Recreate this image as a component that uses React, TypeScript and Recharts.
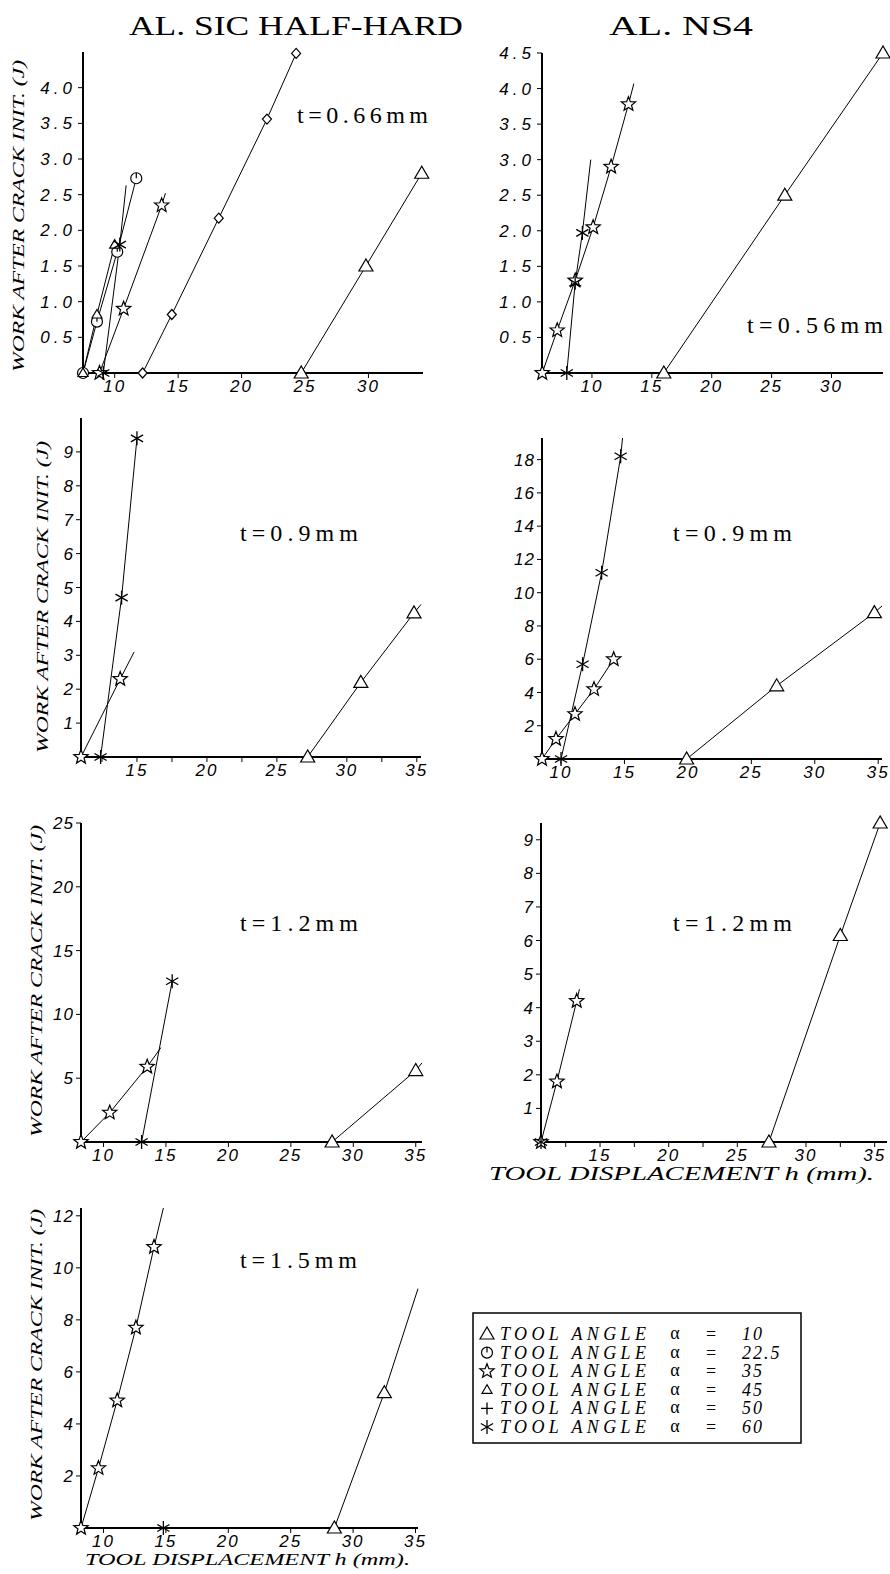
import { LineChart, Line, XAxis, YAxis } from 'recharts';

type Pt = { x: number; y: number; fit?: boolean };
type Mark = 'tri' | 'circ' | 'star' | 'smalltri' | 'diamond' | 'plus' | 'aster';

// fit: end of the drawn trend line, no measured point there

// AL. SIC half-hard, t = 0.66 mm
const sic066Tri: Pt[] = [{ x: 24.7, y: 0 }, { x: 29.8, y: 1.5 }, { x: 34.2, y: 2.8 }];
const sic066Diamond: Pt[] = [{ x: 12.2, y: 0 }, { x: 14.5, y: 0.82 }, { x: 18.2, y: 2.17 }, { x: 22.0, y: 3.56 }, { x: 24.3, y: 4.48 }];
const sic066Circ: Pt[] = [{ x: 7.5, y: 0 }, { x: 8.6, y: 0.72 }, { x: 10.2, y: 1.7 }, { x: 11.7, y: 2.73 }];
const sic066Star: Pt[] = [{ x: 8.8, y: 0 }, { x: 10.7, y: 0.9 }, { x: 13.7, y: 2.35 }, { x: 14.0, y: 2.52, fit: true }];
const sic066SmallTri: Pt[] = [{ x: 7.5, y: 0 }, { x: 8.6, y: 0.82 }, { x: 10.0, y: 1.8 }];
const sic066Aster: Pt[] = [{ x: 9.1, y: 0 }, { x: 10.4, y: 1.8 }, { x: 10.9, y: 2.63, fit: true }];

// AL. NS4, t = 0.56 mm
const ns056Tri: Pt[] = [{ x: 16.0, y: 0 }, { x: 26.1, y: 2.5 }, { x: 34.3, y: 4.5 }];
const ns056Star: Pt[] = [{ x: 5.85, y: 0 }, { x: 7.1, y: 0.6 }, { x: 8.6, y: 1.3 }, { x: 10.1, y: 2.05 }, { x: 11.6, y: 2.9 }, { x: 13.05, y: 3.78 }, { x: 13.5, y: 4.07, fit: true }];
const ns056Aster: Pt[] = [{ x: 7.9, y: 0 }, { x: 8.6, y: 1.27 }, { x: 9.2, y: 1.97 }, { x: 9.9, y: 3.0, fit: true }];

// AL. SIC half-hard, t = 0.9 mm
const sic09Aster: Pt[] = [{ x: 12.4, y: 0 }, { x: 13.9, y: 4.7 }, { x: 15.0, y: 9.4 }];
const sic09Star: Pt[] = [{ x: 11, y: 0 }, { x: 13.8, y: 2.3 }, { x: 14.8, y: 3.1, fit: true }];
const sic09Tri: Pt[] = [{ x: 27.2, y: 0 }, { x: 31.0, y: 2.2 }, { x: 34.8, y: 4.25 }, { x: 35.3, y: 4.5, fit: true }];

// AL. NS4, t = 0.9 mm
const ns09Aster: Pt[] = [{ x: 10.0, y: 0 }, { x: 11.7, y: 5.7 }, { x: 13.2, y: 11.2 }, { x: 14.7, y: 18.2 }, { x: 14.85, y: 19.3, fit: true }];
const ns09Star: Pt[] = [{ x: 8.5, y: 0 }, { x: 9.6, y: 1.2 }, { x: 11.1, y: 2.7 }, { x: 12.6, y: 4.2 }, { x: 14.15, y: 6.0 }];
const ns09Tri: Pt[] = [{ x: 19.9, y: 0 }, { x: 27.0, y: 4.4 }, { x: 34.7, y: 8.8 }, { x: 35.3, y: 9.2, fit: true }];

// AL. SIC half-hard, t = 1.2 mm
const sic12Star: Pt[] = [{ x: 8.2, y: 0 }, { x: 10.5, y: 2.3 }, { x: 13.5, y: 5.9 }, { x: 14.6, y: 7.4, fit: true }];
const sic12Aster: Pt[] = [{ x: 13.05, y: 0 }, { x: 15.5, y: 12.6 }];
const sic12Tri: Pt[] = [{ x: 28.3, y: 0 }, { x: 35.0, y: 5.6 }, { x: 35.5, y: 6.2, fit: true }];

// AL. NS4, t = 1.2 mm
const ns12Star: Pt[] = [{ x: 10.7, y: 0 }, { x: 11.86, y: 1.8 }, { x: 13.3, y: 4.2 }, { x: 13.5, y: 4.55, fit: true }];
const ns12Aster: Pt[] = [{ x: 10.7, y: 0 }];
const ns12Tri: Pt[] = [{ x: 27.3, y: 0 }, { x: 32.5, y: 6.15 }, { x: 35.4, y: 9.5 }];

// AL. SIC half-hard, t = 1.5 mm
const sic15Star: Pt[] = [{ x: 8.2, y: 0 }, { x: 9.6, y: 2.3 }, { x: 11.1, y: 4.9 }, { x: 12.6, y: 7.7 }, { x: 14.05, y: 10.8 }, { x: 14.8, y: 12.3, fit: true }];
const sic15Aster: Pt[] = [{ x: 14.8, y: 0 }];
const sic15Tri: Pt[] = [{ x: 28.5, y: 0 }, { x: 32.5, y: 5.2 }, { x: 35.2, y: 9.2, fit: true }];

const legendKinds: Mark[] = ['tri', 'circ', 'star', 'smalltri', 'plus', 'aster'];
const legendAngles = ['10', '22.5', '35', '45', '50', '60'];

const SERIF = '"Liberation Serif", "DejaVu Serif", serif';
const SANS = '"Liberation Sans", Arial, sans-serif';

function marker(kind: Mark, cx: number, cy: number, key: string) {
  const st = { stroke: '#000', strokeWidth: 1.2, fill: '#fff' };
  switch (kind) {
    case 'tri':
      return <polygon key={key} points={`${cx},${cy - 7} ${cx - 7},${cy + 5} ${cx + 7},${cy + 5}`} {...st} />;
    case 'smalltri':
      return <polygon key={key} points={`${cx},${cy - 5} ${cx - 5},${cy + 3.5} ${cx + 5},${cy + 3.5}`} {...st} />;
    case 'diamond':
      return <polygon key={key} points={`${cx},${cy - 5} ${cx + 4.5},${cy} ${cx},${cy + 5} ${cx - 4.5},${cy}`} {...st} />;
    case 'circ':
      return (
        <g key={key}>
          <circle cx={cx} cy={cy} r={5.5} {...st} />
          <line x1={cx} y1={cy - 5.5} x2={cx} y2={cy} stroke="#000" strokeWidth={1.2} />
        </g>
      );
    case 'star': {
      const pts: string[] = [];
      for (let i = 0; i < 10; i++) {
        const r = i % 2 === 0 ? 7.5 : 3.2;
        const a = -Math.PI / 2 + (i * Math.PI) / 5;
        pts.push(`${cx + r * Math.cos(a)},${cy + r * Math.sin(a)}`);
      }
      return <polygon key={key} points={pts.join(' ')} {...st} />;
    }
    case 'plus':
      return (
        <g key={key} stroke="#000" strokeWidth={1.3}>
          <line x1={cx - 6} y1={cy} x2={cx + 6} y2={cy} />
          <line x1={cx} y1={cy - 6} x2={cx} y2={cy + 6} />
        </g>
      );
    case 'aster':
    default:
      return (
        <g key={key} stroke="#000" strokeWidth={1.3}>
          <line x1={cx} y1={cy - 7} x2={cx} y2={cy + 7} />
          <line x1={cx - 6.1} y1={cy - 3.5} x2={cx + 6.1} y2={cy + 3.5} />
          <line x1={cx - 6.1} y1={cy + 3.5} x2={cx + 6.1} y2={cy - 3.5} />
        </g>
      );
  }
}

interface Series {
  kind: Mark;
  data: Pt[];
}

interface PanelProps {
  id: string;
  box: [number, number, number, number]; // plot left, right, top, bottom
  xDomain: [number, number];
  yDomain: [number, number];
  xTicks: number[];
  minorX?: number[];
  yTicks: number[];
  yDecimals?: number;
  series: Series[];
}

function Panel({ id, box, xDomain, yDomain, xTicks, minorX = [], yTicks, yDecimals = 0, series }: PanelProps) {
  const [l, r, t, b] = box;
  const padL = 70;
  const padR = 12;
  const padT = 12;
  const xAxisH = 34;
  const W = r - l + padL + padR;
  const H = b - t + padT + xAxisH + 4;
  const allX = [...xTicks, ...minorX].sort((a, c) => a - c);
  const tickFont = { fontFamily: SANS, fontStyle: 'italic', fontSize: 17, fill: '#000' };

  return (
    <div style={{ position: 'absolute', left: l - padL, top: t - padT }}>
      <LineChart width={W} height={H} margin={{ top: padT, right: padR, bottom: 4, left: 0 }}>
        <XAxis
          type="number"
          dataKey="x"
          domain={xDomain}
          ticks={allX}
          interval={0}
          height={xAxisH}
          tickSize={5}
          tickMargin={2}
          axisLine={{ stroke: '#000', strokeWidth: 2 }}
          tickLine={{ stroke: '#000', strokeWidth: 1 }}
          tick={{ ...tickFont, letterSpacing: 2 }}
          tickFormatter={(v: number) => (xTicks.includes(v) ? String(v) : '')}
        />
        <YAxis
          type="number"
          domain={yDomain}
          ticks={yTicks}
          interval={0}
          width={padL}
          tickSize={5}
          tickMargin={2}
          axisLine={{ stroke: '#000', strokeWidth: 2 }}
          tickLine={{ stroke: '#000', strokeWidth: 1 }}
          tick={{ ...tickFont, letterSpacing: yDecimals ? 4 : 1 }}
          tickFormatter={(v: number) => v.toFixed(yDecimals)}
        />
        {series.map((s, si) => (
          <Line
            key={`${id}-${si}`}
            data={s.data}
            dataKey="y"
            type="linear"
            stroke="#000"
            strokeWidth={1}
            isAnimationActive={false}
            activeDot={false}
            dot={(p: any) =>
              p.payload && p.payload.fit ? (
                <g key={`${id}-${si}-${p.index}`} />
              ) : (
                marker(s.kind, p.cx, p.cy, `${id}-${si}-${p.index}`)
              )
            }
          />
        ))}
      </LineChart>
    </div>
  );
}

const yLabel = 'WORK AFTER CRACK INIT. (J)';
const xLabel = 'TOOL DISPLACEMENT h (mm).';

export default function App() {
  return (
    <div style={{ position: 'absolute', left: 0, top: 0, width: 890, height: 1574, background: '#fff', overflow: 'hidden' }}>
      <Panel
        id="p1"
        box={[83, 423, 52, 373]}
        xDomain={[7.5, 34.3]}
        yDomain={[0, 4.5]}
        xTicks={[10, 15, 20, 25, 30]}
        yTicks={[0.5, 1, 1.5, 2, 2.5, 3, 3.5, 4]}
        yDecimals={1}
        series={[
          { kind: 'tri', data: sic066Tri },
          { kind: 'diamond', data: sic066Diamond },
          { kind: 'circ', data: sic066Circ },
          { kind: 'star', data: sic066Star },
          { kind: 'smalltri', data: sic066SmallTri },
          { kind: 'aster', data: sic066Aster },
        ]}
      />
      <Panel
        id="p2"
        box={[542, 883, 53, 373]}
        xDomain={[5.83, 34.3]}
        yDomain={[0, 4.5]}
        xTicks={[10, 15, 20, 25, 30]}
        yTicks={[0.5, 1, 1.5, 2, 2.5, 3, 3.5, 4, 4.5]}
        yDecimals={1}
        series={[
          { kind: 'tri', data: ns056Tri },
          { kind: 'star', data: ns056Star },
          { kind: 'aster', data: ns056Aster },
        ]}
      />
      <Panel
        id="p3"
        box={[81, 421, 418, 757]}
        xDomain={[11, 35.3]}
        yDomain={[0, 10]}
        xTicks={[15, 20, 25, 30, 35]}
        minorX={[12.5, 17.5, 22.5, 27.5, 32.5]}
        yTicks={[1, 2, 3, 4, 5, 6, 7, 8, 9]}
        series={[
          { kind: 'aster', data: sic09Aster },
          { kind: 'star', data: sic09Star },
          { kind: 'tri', data: sic09Tri },
        ]}
      />
      <Panel
        id="p4"
        box={[542, 882, 438, 759]}
        xDomain={[8.5, 35.3]}
        yDomain={[0, 19.3]}
        xTicks={[10, 15, 20, 25, 30, 35]}
        yTicks={[2, 4, 6, 8, 10, 12, 14, 16, 18]}
        series={[
          { kind: 'aster', data: ns09Aster },
          { kind: 'star', data: ns09Star },
          { kind: 'tri', data: ns09Tri },
        ]}
      />
      <Panel
        id="p5"
        box={[81, 422, 823, 1142]}
        xDomain={[8.2, 35.5]}
        yDomain={[0, 25]}
        xTicks={[10, 15, 20, 25, 30, 35]}
        yTicks={[5, 10, 15, 20, 25]}
        series={[
          { kind: 'star', data: sic12Star },
          { kind: 'aster', data: sic12Aster },
          { kind: 'tri', data: sic12Tri },
        ]}
      />
      <Panel
        id="p6"
        box={[541, 887, 823, 1142]}
        xDomain={[10.7, 35.9]}
        yDomain={[0, 9.5]}
        xTicks={[15, 20, 25, 30, 35]}
        minorX={[12.5, 17.5, 22.5, 27.5, 32.5]}
        yTicks={[1, 2, 3, 4, 5, 6, 7, 8, 9]}
        series={[
          { kind: 'star', data: ns12Star },
          { kind: 'aster', data: ns12Aster },
          { kind: 'tri', data: ns12Tri },
        ]}
      />
      <Panel
        id="p7"
        box={[81, 418, 1208, 1528]}
        xDomain={[8.2, 35.2]}
        yDomain={[0, 12.3]}
        xTicks={[10, 15, 20, 25, 30, 35]}
        yTicks={[2, 4, 6, 8, 10, 12]}
        series={[
          { kind: 'star', data: sic15Star },
          { kind: 'aster', data: sic15Aster },
          { kind: 'tri', data: sic15Tri },
        ]}
      />

      <svg width={890} height={1574} style={{ position: 'absolute', left: 0, top: 0, pointerEvents: 'none' }}>
        {/* column titles */}
        <text x={129} y={35} fontFamily={SERIF} fontSize={28} textLength={334} lengthAdjust="spacingAndGlyphs">
          AL. SIC HALF-HARD
        </text>
        <text x={609} y={35} fontFamily={SERIF} fontSize={28} textLength={144} lengthAdjust="spacingAndGlyphs">
          AL. NS4
        </text>

        {/* thickness labels */}
        {[
          { s: 't=0.66mm', x: 297, y: 123, w: 131 },
          { s: 't=0.56mm', x: 747, y: 333, w: 136 },
          { s: 't=0.9mm', x: 240, y: 541, w: 118 },
          { s: 't=0.9mm', x: 673, y: 541, w: 119 },
          { s: 't=1.2mm', x: 240, y: 931, w: 118 },
          { s: 't=1.2mm', x: 673, y: 931, w: 119 },
          { s: 't=1.5mm', x: 240, y: 1268, w: 117 },
        ].map((d, i) => (
          <text key={`t${i}`} x={d.x} y={d.y} fontFamily={SERIF} fontSize={24} textLength={d.w} lengthAdjust="spacing">
            {d.s}
          </text>
        ))}

        {/* y axis titles */}
        {[
          [24, 216],
          [48, 597],
          [42, 981],
          [42, 1365],
        ].map(([cx, cy], i) => (
          <text
            key={`yl${i}`}
            x={cx}
            y={cy}
            transform={`rotate(-90 ${cx} ${cy})`}
            textAnchor="middle"
            fontFamily={SERIF}
            fontStyle="italic"
            fontSize={16}
            textLength={312}
            lengthAdjust="spacingAndGlyphs"
          >
            {yLabel}
          </text>
        ))}

        {/* x axis titles */}
        <text x={489} y={1180} fontFamily={SERIF} fontStyle="italic" fontSize={18} textLength={385} lengthAdjust="spacingAndGlyphs">
          {xLabel}
        </text>
        <text x={85} y={1565} fontFamily={SERIF} fontStyle="italic" fontSize={17} textLength={325} lengthAdjust="spacingAndGlyphs">
          {xLabel}
        </text>

        {/* legend */}
        <rect x={473} y={1313} width={328} height={130} fill="none" stroke="#000" strokeWidth={1.5} />
        {legendKinds.map((k, i) => {
          const cy = 1334 + i * 18.6;
          return (
            <g key={`lg${i}`}>
              {marker(k, 487, cy, `lgm${i}`)}
              <text x={500} y={cy + 6} fontFamily={SERIF} fontStyle="italic" fontSize={18} textLength={146} lengthAdjust="spacing">
                TOOL ANGLE
              </text>
              <text x={675} y={cy + 5} textAnchor="middle" fontFamily={SERIF} fontSize={18}>
                α
              </text>
              <text x={711} y={cy + 6} textAnchor="middle" fontFamily={SERIF} fontSize={18}>
                =
              </text>
              <text x={742} y={cy + 6} fontFamily={SERIF} fontStyle="italic" fontSize={18} letterSpacing={2}>
                {legendAngles[i]}
              </text>
            </g>
          );
        })}
      </svg>
    </div>
  );
}
